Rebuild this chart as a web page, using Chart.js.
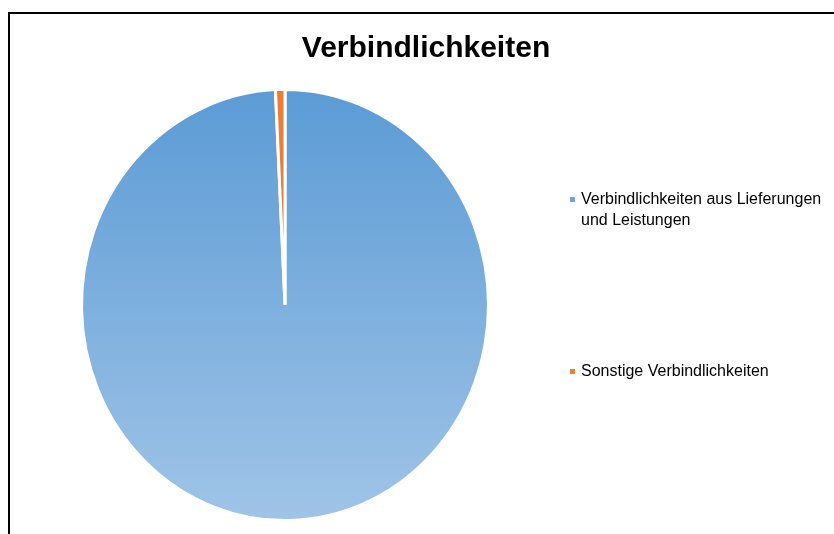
<!DOCTYPE html>
<html>
<head>
<meta charset="utf-8">
<script src="https://cdn.jsdelivr.net/npm/chart.js@4"></script>
<style>
html, body { margin: 0; padding: 0; background: #fff; overflow: hidden; }
#frame { position: absolute; left: 8px; top: 12px; width: 900px; height: 600px; border-left: 2px solid #000; border-top: 2px solid #000; }
#wrap { position: absolute; left: 0; top: 0; width: 834px; height: 534px; }
</style>
</head>
<body>
<div id="frame"></div>
<div id="wrap"><canvas id="chart"></canvas></div>
<script>
const chartTitle = 'Verbindlichkeiten';
const labels = [
    ['Verbindlichkeiten aus Lieferungen', 'und Leistungen'],
    ['Sonstige Verbindlichkeiten']
];
const values = [99.25, 0.75];
const sliceColors = ['#5b9bd5', '#ed7d31'];

const ctx = document.querySelector('#chart').getContext('2d');

function sliceFill(c) {
    const area = c.chart.chartArea;
    if (c.dataIndex !== 0 || !area) {
        return sliceColors[c.dataIndex];
    }
    const g = c.chart.ctx.createLinearGradient(0, area.top, 0, area.bottom);
    g.addColorStop(0, '#5b9bd5');
    g.addColorStop(1, '#a0c4e7');
    return g;
}

// excel pie is a little taller than wide
const stretch = {
    id: 'stretch',
    beforeDatasetsDraw(chart) {
        const a = chart.chartArea;
        const cy = (a.top + a.bottom) / 2;
        chart.ctx.save();
        chart.ctx.translate(0, cy);
        chart.ctx.scale(1, 1.06);
        chart.ctx.translate(0, -cy);
    },
    afterDatasetsDraw(chart) {
        chart.ctx.restore();
    }
};

// title and legend drawn like in the excel sheet
const texts = {
    id: 'texts',
    afterDraw(chart) {
        const c = chart.ctx;
        c.save();
        c.fillStyle = '#000';
        c.textAlign = 'center';
        c.textBaseline = 'alphabetic';
        c.font = 'bold 30px "Liberation Sans"';
        c.fillText(chartTitle, 426, 57);

        c.textAlign = 'left';
        c.textBaseline = 'middle';
        c.font = '16px "Liberation Sans"';
        const tops = [200, 372];
        labels.forEach((lines, i) => {
            c.fillStyle = i === 0 ? '#6ea5d9' : sliceColors[i];
            c.fillRect(570, tops[i] - 3, 5, 5);
            c.fillStyle = '#000';
            lines.forEach((line, j) => {
                c.fillText(line, 581, tops[i] + j * 21);
            });
        });
        c.restore();
    }
};

const chart = new Chart(ctx, {
    type: 'pie',
    data: {
        labels: labels.map(l => l.join(' ')),
        datasets: [{
            data: values,
            backgroundColor: sliceFill,
            borderColor: '#fff',
            borderWidth: 3
        }]
    },
    options: {
        responsive: true,
        maintainAspectRatio: false,
        animation: false,
        layout: {
            padding: { left: 80, right: 344, top: 100, bottom: 24 }
        },
        plugins: {
            legend: { display: false },
            title: { display: false },
            tooltip: { enabled: false }
        }
    },
    plugins: [stretch, texts]
});
</script>
</body>
</html>
